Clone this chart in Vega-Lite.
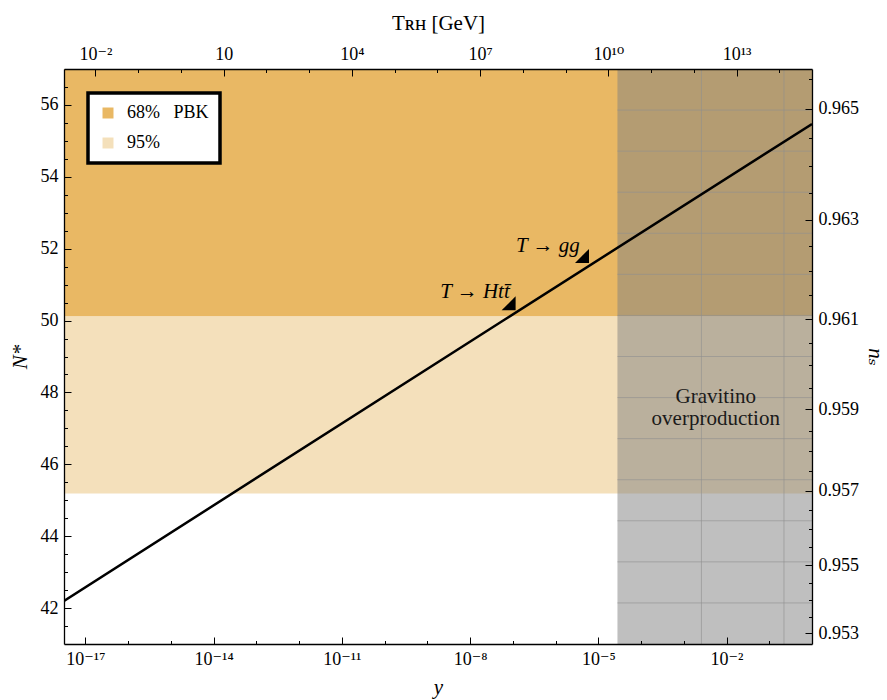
{
  "$schema": "https://vega.github.io/schema/vega-lite/v6.json",
  "width": 748,
  "height": 575,
  "autosize": {"type": "none"},
  "padding": {"left": 64, "top": 69, "right": 75, "bottom": 56},
  "background": "white",
  "config": {
    "font": "'Liberation Serif', 'Times New Roman', 'DejaVu Serif', serif",
    "view": {"stroke": null},
    "axis": {
      "domainColor": "black", "domainWidth": 1.3, "tickColor": "black", "tickWidth": 1,
      "labelColor": "black", "labelFont": "'Liberation Serif', 'Times New Roman', 'DejaVu Serif', serif", "labelFontSize": 18,
      "titleFont": "'Liberation Serif', 'Times New Roman', 'DejaVu Serif', serif", "titleFontSize": 21, "titleFontWeight": "normal", "titleColor": "black",
      "grid": false, "labelFlush": false, "labelOverlap": false, "labelBound": false
    },
    "legend": {
      "orient": "top-left", "offset": 24, "fillColor": "white", "strokeColor": "black", "strokeWidth": 3.5,
      "padding": 11, "labelFont": "'Liberation Serif', 'Times New Roman', 'DejaVu Serif', serif", "labelFontSize": 18, "labelColor": "black",
      "symbolType": "square", "symbolSize": 121, "symbolStrokeWidth": 0, "rowPadding": 12, "labelOffset": 10,
      "cornerRadius": 0, "zindex": 2
    }
  },
  "datasets": {
    "bands": [
      {"band": "68%\u00a0\u00a0\u00a0PBK", "yv": 3.1623e-18, "yv2": 1, "N": 50.11, "N2": 57},
      {"band": "95%", "yv": 3.1623e-18, "yv2": 1, "N": 45.19, "N2": 50.11}
    ],
    "gravitino": [{"yv": 2.81e-5, "yv2": 1, "N": 41, "N2": 57}],
    "gridv": [{"yv": 2.59e-3, "N": 41, "N2": 57}, {"yv": 0.221, "N": 41, "N2": 57}],
    "gridh": [
      {"yv": 2.81e-5, "yv2": 1, "N": 55.857}, {"yv": 2.81e-5, "yv2": 1, "N": 54.714},
      {"yv": 2.81e-5, "yv2": 1, "N": 53.571}, {"yv": 2.81e-5, "yv2": 1, "N": 52.429},
      {"yv": 2.81e-5, "yv2": 1, "N": 51.286}, {"yv": 2.81e-5, "yv2": 1, "N": 50.143},
      {"yv": 2.81e-5, "yv2": 1, "N": 49.0}, {"yv": 2.81e-5, "yv2": 1, "N": 47.857},
      {"yv": 2.81e-5, "yv2": 1, "N": 46.714}, {"yv": 2.81e-5, "yv2": 1, "N": 45.571},
      {"yv": 2.81e-5, "yv2": 1, "N": 44.429}, {"yv": 2.81e-5, "yv2": 1, "N": 43.286},
      {"yv": 2.81e-5, "yv2": 1, "N": 42.143}
    ],
    "curve": [{"yv": 3.1623e-18, "N": 42.2}, {"yv": 6.5e-8, "N": 50.03}, {"yv": 1, "N": 55.47}],
    "markers": [{"yv": 7.98e-8, "N": 50.48}, {"yv": 4.16e-6, "N": 51.80}],
    "notes": [
      {"label": "T \u2192 Htt\u0304", "yv": 8.5e-8, "N": 50.63},
      {"label": "T \u2192 gg", "yv": 3.69e-6, "N": 51.92}
    ],
    "region": [{"label": "Gravitino\noverproduction", "yv": 5.6e-3, "N": 47.88}],
    "dummy": [{"yv": 1e-10, "N": 50}]
  },
  "layer": [
    {
      "encoding": {
        "x": {
          "field": "yv", "type": "quantitative",
          "scale": {"type": "log", "domain": [3.1623e-18, 1]},
          "axis": {
            "orient": "bottom", "title": "y", "titleFontStyle": "italic", "zindex": 1,
            "values": [1e-17, 1e-16, 1e-15, 1e-14, 1e-13, 1e-12, 1e-11, 1e-10, 1e-9, 1e-8, 1e-7, 1e-6, 1e-5, 1e-4, 1e-3, 1e-2, 1e-1],
            "labelExpr": "round(log(datum.value)/LN10) === -17 ? '10\u207b\u00b9\u2077' : round(log(datum.value)/LN10) === -14 ? '10\u207b\u00b9\u2074' : round(log(datum.value)/LN10) === -11 ? '10\u207b\u00b9\u00b9' : round(log(datum.value)/LN10) === -8 ? '10\u207b\u2078' : round(log(datum.value)/LN10) === -5 ? '10\u207b\u2075' : round(log(datum.value)/LN10) === -2 ? '10\u207b\u00b2' : ''",
            "tickSize": {"condition": {"test": "(round(log(datum.value)/LN10) + 17) % 3 === 0", "value": -7}, "value": -3.5},
            "labelPadding": 13, "titlePadding": 5
          }
        },
        "y": {
          "field": "N", "type": "quantitative",
          "scale": {"domain": [41, 57], "nice": false, "zero": false},
          "axis": {
            "orient": "left", "title": "N*", "titleFontStyle": "italic", "zindex": 1,
            "values": [41.5, 42, 42.5, 43, 43.5, 44, 44.5, 45, 45.5, 46, 46.5, 47, 47.5, 48, 48.5, 49, 49.5, 50, 50.5, 51, 51.5, 52, 52.5, 53, 53.5, 54, 54.5, 55, 55.5, 56, 56.5],
            "labelExpr": "datum.value % 2 === 0 ? format(datum.value, 'd') : ''",
            "tickSize": {"condition": {"test": "datum.value % 2 === 0", "value": -7}, "value": -3.5},
            "labelPadding": 13, "titlePadding": 10
          }
        }
      },
      "layer": [
        {
          "data": {"name": "bands"},
          "mark": {"type": "rect"},
          "encoding": {
            "x2": {"field": "yv2"}, "y2": {"field": "N2"},
            "color": {
              "field": "band", "type": "nominal",
              "scale": {"domain": ["68%\u00a0\u00a0\u00a0PBK", "95%"], "range": ["#E9B864", "#F4E0BB"]},
              "legend": {"title": null}
            }
          }
        },
        {
          "data": {"name": "gravitino"},
          "mark": {"type": "rect", "color": "#808080", "opacity": 0.5},
          "encoding": {"x2": {"field": "yv2"}, "y2": {"field": "N2"}}
        },
        {
          "data": {"name": "gridv"},
          "mark": {"type": "rule", "color": "#909090", "opacity": 0.6, "strokeWidth": 1},
          "encoding": {"y2": {"field": "N2"}}
        },
        {
          "data": {"name": "gridh"},
          "mark": {"type": "rule", "color": "#909090", "opacity": 0.6, "strokeWidth": 1},
          "encoding": {"x2": {"field": "yv2"}}
        },
        {
          "data": {"name": "curve"},
          "mark": {"type": "line", "color": "black", "strokeWidth": 2.5, "clip": true},
          "encoding": {}
        },
        {
          "data": {"name": "markers"},
          "mark": {"type": "point", "shape": "M1,1L1,-1L-1,1Z", "filled": true, "color": "black", "size": 196, "opacity": 1},
          "encoding": {}
        },
        {
          "data": {"name": "notes"},
          "mark": {"type": "text", "align": "right", "baseline": "alphabetic", "fontSize": 21, "fontStyle": "italic", "color": "black"},
          "encoding": {"text": {"field": "label"}}
        },
        {
          "data": {"name": "region"},
          "mark": {"type": "text", "align": "center", "baseline": "middle", "fontSize": 21, "lineBreak": "\n", "lineHeight": 22, "color": "#1a1a1a"},
          "encoding": {"text": {"field": "label"}}
        }
      ]
    },
    {
      "data": {"name": "dummy"},
      "mark": {"type": "point", "opacity": 0},
      "encoding": {
        "x": {
          "field": "yv", "type": "quantitative",
          "scale": {"type": "log", "domain": [3.1623e-18, 1]},
          "axis": {
            "orient": "top", "title": "T\u0280\u029c [GeV]", "zindex": 1,
            "values": [1.718e-17, 1.718e-16, 1.718e-15, 1.718e-14, 1.718e-13, 1.718e-12, 1.718e-11, 1.718e-10, 1.718e-9, 1.718e-8, 1.718e-7, 1.718e-6, 1.718e-5, 1.718e-4, 1.718e-3, 1.718e-2, 1.718e-1],
            "labelExpr": "round(log(datum.value)/LN10) === -17 ? '10\u207b\u00b2' : round(log(datum.value)/LN10) === -14 ? '10' : round(log(datum.value)/LN10) === -11 ? '10\u2074' : round(log(datum.value)/LN10) === -8 ? '10\u2077' : round(log(datum.value)/LN10) === -5 ? '10\u00b9\u2070' : round(log(datum.value)/LN10) === -2 ? '10\u00b9\u00b3' : ''",
            "tickSize": {"condition": {"test": "(round(log(datum.value)/LN10) + 17) % 3 === 0", "value": -7}, "value": -3.5},
            "labelPadding": 13, "titlePadding": 8
          }
        },
        "y": {
          "field": "N", "type": "quantitative",
          "scale": {"domain": [41, 57], "nice": false, "zero": false},
          "axis": {
            "orient": "right", "title": "n\u209b", "titleFontStyle": "italic", "zindex": 1,
            "values": [56.72, 55.89, 55.09, 54.31, 53.55, 52.8, 52.08, 51.38, 50.7, 50.03, 49.38, 48.75, 48.13, 47.53, 46.94, 46.37, 45.81, 45.26, 44.73, 44.2, 43.69, 43.19, 42.71, 42.23, 41.76, 41.3],
            "labelExpr": "datum.value === 55.89 ? '0.965' : datum.value === 52.8 ? '0.963' : datum.value === 50.03 ? '0.961' : datum.value === 47.53 ? '0.959' : datum.value === 45.26 ? '0.957' : datum.value === 43.19 ? '0.955' : datum.value === 41.3 ? '0.953' : ''",
            "tickSize": {"condition": {"test": "indexof([55.89, 52.8, 50.03, 47.53, 45.26, 43.19, 41.3], datum.value) >= 0", "value": -7}, "value": -3.5},
            "labelPadding": 13, "titlePadding": 6
          }
        }
      }
    }
  ],
  "resolve": {"scale": {"x": "independent", "y": "independent"}}
}
